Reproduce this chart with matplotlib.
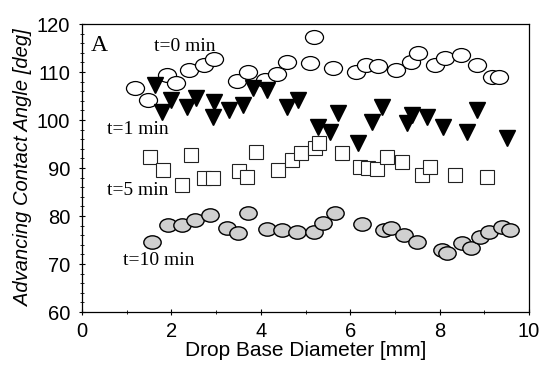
import matplotlib
matplotlib.use("Agg")
import matplotlib.pyplot as plt
import numpy as np
from matplotlib.path import Path
from matplotlib.transforms import Affine2D
from matplotlib.ticker import MultipleLocator

# t=0 min (open circles)
x_t0 = [1.18, 1.47, 1.89, 2.11, 2.40, 2.73, 2.96, 3.46, 3.71, 4.10, 4.36, 4.58,
        5.11, 5.18, 5.62, 6.13, 6.36, 6.62, 7.02, 7.36, 7.51, 7.89, 8.11, 8.47,
        8.84, 9.18, 9.33]
y_t0 = [106.7, 104.2, 109.4, 107.7, 110.4, 111.5, 112.7, 108.2, 110.0, 108.4, 109.5, 112.1,
        111.9, 117.3, 110.8, 110.0, 111.5, 111.2, 110.4, 112.1, 113.9, 111.5, 112.9, 113.5,
        111.5, 109.0, 109.0]

# t=1 min (filled down triangles)
x_t1 = [1.63, 1.78, 2.00, 2.34, 2.56, 2.92, 2.96, 3.29, 3.60, 3.83, 4.13, 4.58, 4.82,
        5.28, 5.55, 5.73, 6.17, 6.48, 6.71, 7.27, 7.38, 7.72, 8.08, 8.60, 8.84, 9.51]
y_t1 = [107.3, 101.7, 104.2, 102.7, 104.6, 100.6, 103.8, 102.1, 103.1, 106.7, 106.3, 102.8, 104.2,
        98.6, 97.6, 101.5, 95.2, 99.6, 102.7, 99.4, 101.0, 100.6, 98.5, 97.4, 102.1, 96.2]

# t=5 min (open squares)
x_t5 = [1.51, 1.81, 2.24, 2.44, 2.73, 2.92, 3.51, 3.69, 3.89, 4.38, 4.69, 4.90,
        5.22, 5.30, 5.82, 6.22, 6.40, 6.60, 6.82, 7.16, 7.60, 7.79, 8.34, 9.06]
y_t5 = [92.3, 89.6, 86.5, 92.7, 87.9, 87.9, 89.4, 88.2, 93.3, 89.6, 91.7, 93.1,
        94.2, 95.3, 93.1, 90.2, 90.1, 89.9, 92.3, 91.2, 88.5, 90.2, 88.5, 88.1]

# t=10 min (grey filled circles)
x_t10 = [1.57, 1.93, 2.24, 2.53, 2.86, 3.24, 3.49, 3.71, 4.13, 4.47, 4.80, 5.20, 5.40,
         5.66, 6.27, 6.76, 6.91, 7.20, 7.50, 8.05, 8.16, 8.50, 8.70, 8.90, 9.10, 9.40, 9.57]
y_t10 = [74.6, 78.1, 78.1, 79.2, 80.2, 77.5, 76.5, 80.6, 77.3, 77.1, 76.6, 76.7, 78.5,
         80.6, 78.3, 77.1, 77.5, 76.0, 74.6, 72.9, 72.3, 74.4, 73.3, 75.6, 76.7, 77.7, 77.1]

series_labels = ["t=0 min", "t=1 min", "t=5 min", "t=10 min"]
x_ticks = [0, 2, 4, 6, 8, 10]
y_ticks = [60, 70, 80, 90, 100, 110, 120]

ellipse = Path.unit_circle().transformed(Affine2D().scale(1.3, 1.0))

fig = plt.figure(figsize=(5.41, 3.81), dpi=100)
ax = fig.add_axes([0.1516, 0.181, 0.8264, 0.756])

ax.plot(x_t0, y_t0, linestyle="none", marker=ellipse, markersize=13,
        markerfacecolor="white", markeredgecolor="black", markeredgewidth=0.9)
ax.plot(x_t1, y_t1, linestyle="none", marker="v", markersize=11,
        markerfacecolor="black", markeredgecolor="black")
ax.plot(x_t5, y_t5, linestyle="none", marker="s", markersize=10,
        markerfacecolor="white", markeredgecolor="#222222", markeredgewidth=0.8)
ax.plot(x_t10, y_t10, linestyle="none", marker=ellipse, markersize=12.5,
        markerfacecolor="#d0d0d0", markeredgecolor="black", markeredgewidth=1.0)

ax.set_xlim(0, 10)
ax.set_ylim(60, 120)
ax.set_xticks(x_ticks)
ax.set_yticks(y_ticks)
ax.xaxis.set_minor_locator(MultipleLocator(1))
ax.yaxis.set_minor_locator(MultipleLocator(2))
ax.tick_params(which="major", direction="inout", length=5, width=0.8,
               labelsize=14.5, pad=5)
ax.tick_params(axis="y", which="major", pad=6)
ax.tick_params(which="minor", direction="inout", length=3, width=0.6)
for lab in ax.get_xticklabels() + ax.get_yticklabels():
    lab.set_fontfamily("Liberation Sans")
for s in ax.spines.values():
    s.set_linewidth(0.9)

ax.set_xlabel("Drop Base Diameter [mm]", fontsize=15, family="Liberation Sans", labelpad=0)
ax.set_ylabel("Advancing Contact Angle [deg]", fontsize=14.5, family="Liberation Sans",
              style="italic", labelpad=3)

serif = "Liberation Serif"
ax.text(0.2, 115.6, "A", fontsize=17, family=serif, va="center", ha="left")
ax.text(1.6, 115.4, series_labels[0], fontsize=14, family=serif, va="center", ha="left")
ax.text(0.56, 98.0, series_labels[1], fontsize=14, family=serif, va="center", ha="left")
ax.text(0.56, 85.4, series_labels[2], fontsize=14, family=serif, va="center", ha="left")
ax.text(0.92, 70.8, series_labels[3], fontsize=14, family=serif, va="center", ha="left")

fig.savefig("out.png", dpi=100)
